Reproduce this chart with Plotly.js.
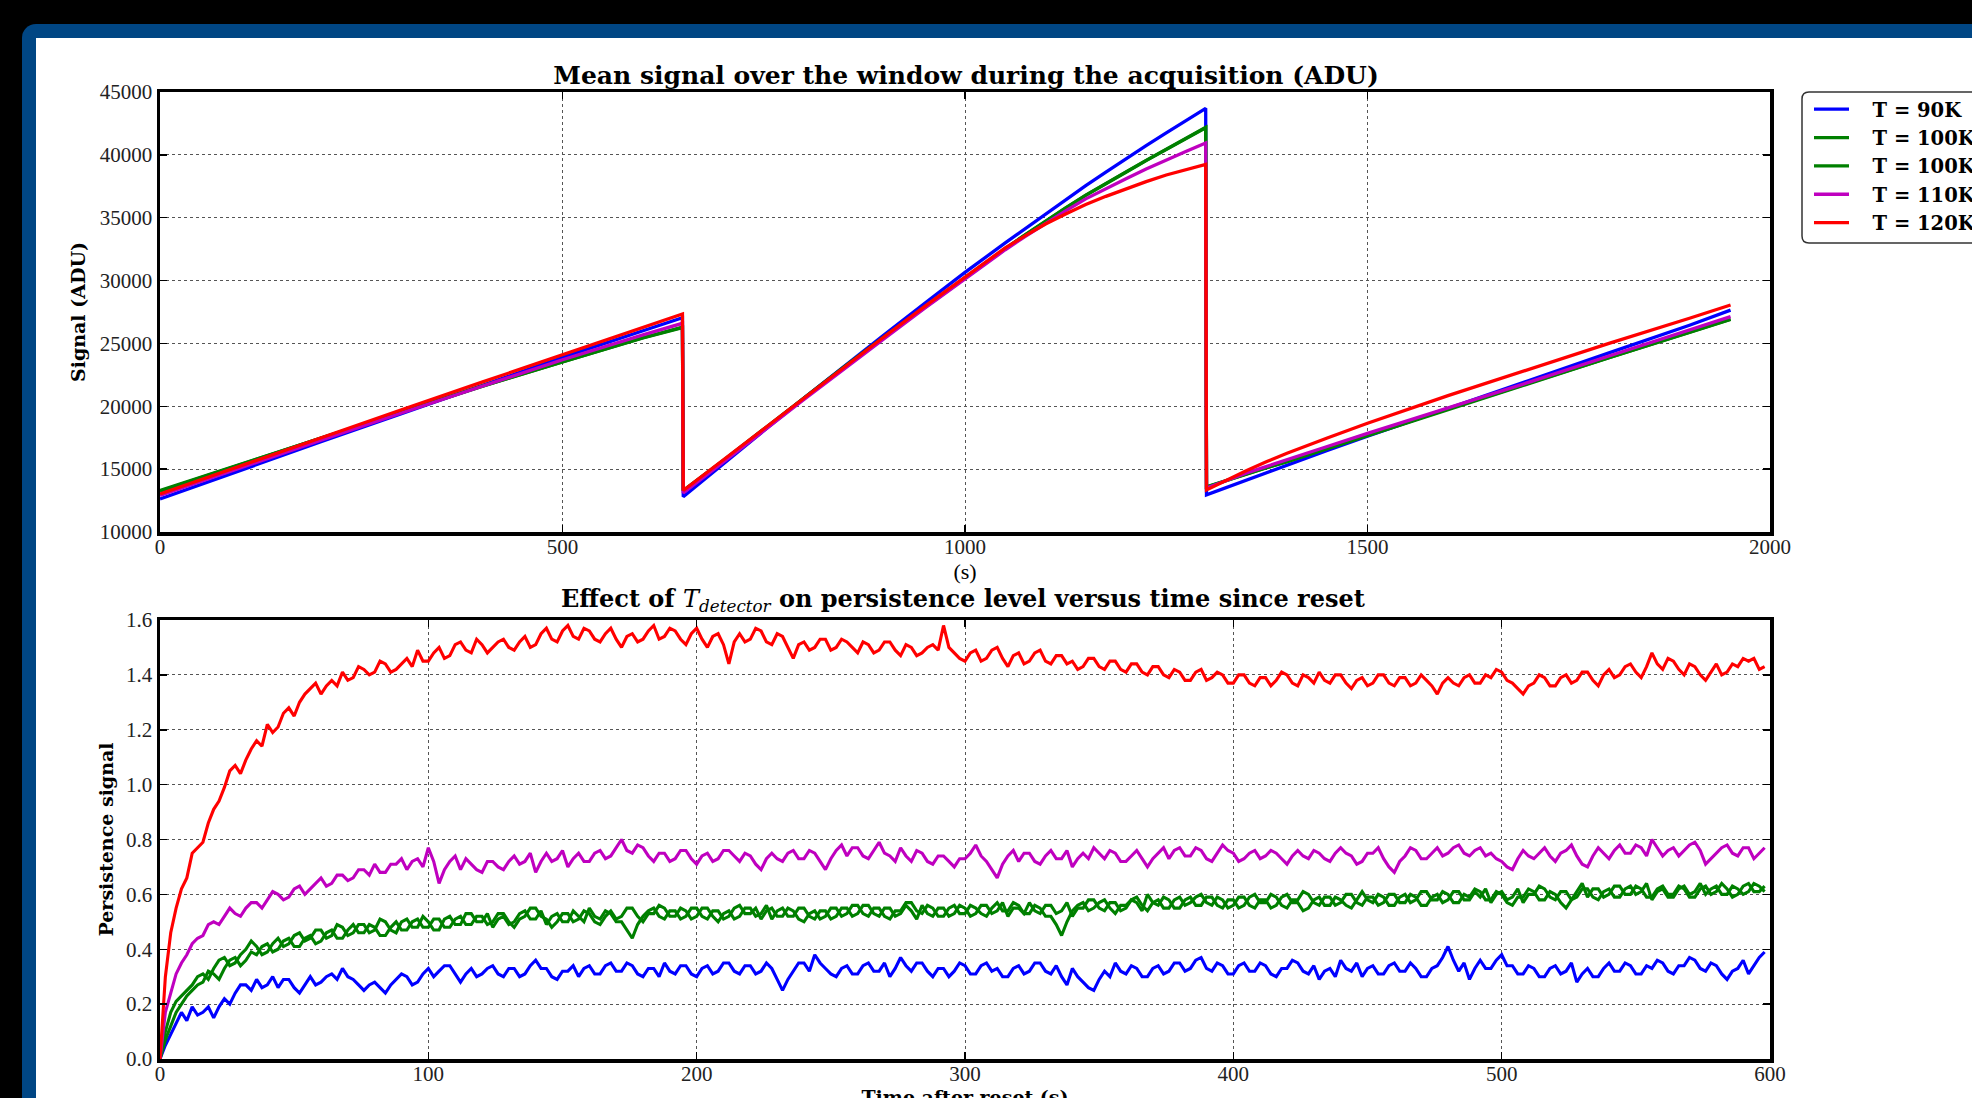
<!DOCTYPE html>
<html><head><meta charset="utf-8">
<script src="https://cdn.plot.ly/plotly-3.0.1.min.js"></script>
<style>
html,body{margin:0;padding:0;background:#000;width:1972px;height:1098px;overflow:hidden;}
#frame{position:absolute;left:22px;top:24px;width:2100px;height:1200px;background:#004684;border-radius:14px;}
#inner{position:absolute;left:36px;top:38px;width:2100px;height:1200px;background:#fff;}
#chart{position:absolute;left:0;top:0;width:1972px;height:1130px;}
</style></head><body>
<div id="frame"></div><div id="inner"></div><div id="chart"></div>
<script>
// ---------- Top panel: mean signal (ADU) ----------
const topTime = [0,100,200,300,400,500,600,649, 650,700,750,800,850,900,950,1000,1050,1075,1100,1125,1150,1175,1200,1225,1250,1275,1299, 1300,1325,1350,1375,1400,1450,1500,1600,1700,1800,1900,1951];
const topBlue = [12620,14910,17180,19420,21660,23890,26010,27050, 12800,15450,18050,20650,23200,25700,28200,30650,33000,34150,35300,36430,37550,38630,39700,40730,41750,42740,43700, 12950,13550,14150,14740,15330,16480,17620,19850,22050,24250,26450,27650];
const topGreenA = [13300,15400,17500,19560,21600,23550,25450,26300, 13300,15700,18200,20700,23150,25550,27900,30250,32550,33660,34750,35790,36800,37750,38650,39560,40450,41330,42200, 13600,14120,14650,15130,15600,16650,17700,19780,21830,23880,25900,26920];
const topGreenB = [13250,15380,17480,19540,21580,23530,25430,26260, 13280,15680,18180,20680,23130,25530,27880,30230,32520,33640,34720,35770,36780,37730,38620,39540,40420,41300,42150, 13580,14100,14630,15110,15590,16630,17680,19760,21810,23860,25880,26900];
const topMagenta = [12900,15120,17310,19470,21600,23700,25680,26600, 13100,15550,18050,20550,23000,25400,27800,30150,32450,33520,34550,35550,36500,37330,38100,38870,39600,40290,40950, 13500,14100,14700,15220,15730,16800,17850,19870,21900,24000,26080,27130];
const topRed = [13020,15270,17500,19720,21920,24100,26280,27340, 13300,15750,18250,20700,23150,25550,27950,30300,32600,33580,34500,35300,36050,36700,37300,37870,38400,38850,39250, 13350,14150,14900,15600,16260,17480,18650,20850,22950,25000,27000,28060];

// ---------- Bottom panel: persistence signal (sampled every 2 s) ----------
const botTime = [0,2,4,6,8,10,12,14,16,18,20,22,24,26,28,30,32,34,36,38,40,42,44,46,48,50,52,54,56,58,60,62,64,66,68,70,72,74,76,78,80,82,84,86,88,90,92,94,96,98,100,102,104,106,108,110,112,114,116,118,120,122,124,126,128,130,132,134,136,138,140,142,144,146,148,150,152,154,156,158,160,162,164,166,168,170,172,174,176,178,180,182,184,186,188,190,192,194,196,198,200,202,204,206,208,210,212,214,216,218,220,222,224,226,228,230,232,234,236,238,240,242,244,246,248,250,252,254,256,258,260,262,264,266,268,270,272,274,276,278,280,282,284,286,288,290,292,294,296,298,300,302,304,306,308,310,312,314,316,318,320,322,324,326,328,330,332,334,336,338,340,342,344,346,348,350,352,354,356,358,360,362,364,366,368,370,372,374,376,378,380,382,384,386,388,390,392,394,396,398,400,402,404,406,408,410,412,414,416,418,420,422,424,426,428,430,432,434,436,438,440,442,444,446,448,450,452,454,456,458,460,462,464,466,468,470,472,474,476,478,480,482,484,486,488,490,492,494,496,498,500,502,504,506,508,510,512,514,516,518,520,522,524,526,528,530,532,534,536,538,540,542,544,546,548,550,552,554,556,558,560,562,564,566,568,570,572,574,576,578,580,582,584,586,588,590,592,594,596,598];
const botRed = [0.00,0.30,0.46,0.55,0.62,0.66,0.75,0.77,0.79,0.86,0.91,0.94,0.99,1.05,1.07,1.04,1.09,1.13,1.16,1.14,1.22,1.19,1.21,1.26,1.28,1.25,1.30,1.33,1.35,1.37,1.33,1.36,1.38,1.36,1.41,1.38,1.39,1.43,1.42,1.40,1.41,1.45,1.44,1.41,1.42,1.44,1.46,1.43,1.49,1.45,1.45,1.48,1.50,1.46,1.47,1.51,1.52,1.49,1.48,1.53,1.51,1.48,1.50,1.52,1.53,1.50,1.49,1.52,1.54,1.50,1.51,1.55,1.57,1.53,1.52,1.56,1.58,1.54,1.53,1.57,1.56,1.53,1.52,1.55,1.57,1.53,1.50,1.54,1.55,1.52,1.53,1.56,1.58,1.53,1.54,1.57,1.56,1.53,1.51,1.55,1.57,1.53,1.50,1.54,1.55,1.51,1.44,1.52,1.55,1.52,1.53,1.57,1.56,1.52,1.51,1.55,1.54,1.50,1.46,1.51,1.52,1.49,1.50,1.53,1.53,1.49,1.50,1.53,1.52,1.50,1.48,1.52,1.51,1.48,1.49,1.52,1.52,1.49,1.47,1.51,1.50,1.47,1.48,1.50,1.51,1.49,1.58,1.50,1.48,1.46,1.45,1.48,1.49,1.45,1.46,1.49,1.50,1.46,1.43,1.47,1.48,1.44,1.45,1.48,1.49,1.45,1.44,1.47,1.47,1.44,1.45,1.42,1.43,1.46,1.46,1.43,1.42,1.45,1.45,1.42,1.41,1.44,1.44,1.41,1.40,1.43,1.43,1.40,1.39,1.42,1.41,1.38,1.38,1.41,1.42,1.38,1.39,1.41,1.40,1.37,1.37,1.40,1.40,1.37,1.36,1.39,1.39,1.36,1.38,1.41,1.40,1.37,1.36,1.40,1.39,1.37,1.41,1.38,1.37,1.40,1.40,1.37,1.35,1.38,1.39,1.36,1.37,1.40,1.40,1.37,1.36,1.39,1.39,1.36,1.37,1.40,1.38,1.36,1.33,1.37,1.39,1.37,1.36,1.39,1.40,1.37,1.37,1.40,1.39,1.42,1.41,1.38,1.37,1.35,1.33,1.36,1.37,1.40,1.39,1.36,1.36,1.39,1.40,1.37,1.38,1.41,1.41,1.38,1.36,1.40,1.42,1.39,1.40,1.43,1.44,1.41,1.39,1.43,1.48,1.44,1.42,1.46,1.45,1.42,1.40,1.44,1.43,1.40,1.38,1.41,1.44,1.40,1.41,1.44,1.43,1.46,1.45,1.46,1.42,1.43];
const botMagenta = [0.00,0.17,0.24,0.31,0.35,0.38,0.42,0.44,0.45,0.49,0.50,0.49,0.52,0.55,0.53,0.52,0.55,0.57,0.57,0.55,0.58,0.61,0.60,0.58,0.59,0.62,0.63,0.60,0.62,0.64,0.66,0.63,0.64,0.67,0.67,0.65,0.66,0.69,0.69,0.67,0.71,0.68,0.68,0.71,0.71,0.73,0.69,0.72,0.73,0.70,0.77,0.72,0.64,0.69,0.72,0.74,0.69,0.73,0.71,0.69,0.68,0.72,0.72,0.70,0.69,0.72,0.74,0.71,0.72,0.75,0.68,0.72,0.75,0.72,0.73,0.76,0.70,0.73,0.75,0.72,0.72,0.75,0.76,0.73,0.74,0.77,0.80,0.76,0.75,0.78,0.77,0.74,0.72,0.75,0.75,0.72,0.73,0.76,0.76,0.73,0.71,0.74,0.75,0.72,0.73,0.76,0.76,0.74,0.72,0.75,0.74,0.71,0.69,0.73,0.75,0.73,0.72,0.75,0.76,0.73,0.73,0.76,0.75,0.72,0.69,0.73,0.76,0.78,0.74,0.77,0.77,0.74,0.73,0.76,0.79,0.75,0.74,0.72,0.77,0.74,0.72,0.76,0.75,0.72,0.71,0.74,0.74,0.72,0.70,0.73,0.73,0.75,0.78,0.74,0.72,0.69,0.66,0.71,0.74,0.76,0.72,0.75,0.75,0.72,0.71,0.74,0.76,0.73,0.73,0.76,0.70,0.73,0.75,0.73,0.77,0.75,0.73,0.76,0.75,0.72,0.72,0.74,0.76,0.73,0.70,0.73,0.75,0.77,0.73,0.76,0.77,0.74,0.74,0.77,0.76,0.73,0.72,0.75,0.78,0.76,0.75,0.72,0.73,0.75,0.76,0.73,0.74,0.76,0.75,0.73,0.71,0.74,0.76,0.74,0.73,0.76,0.75,0.73,0.72,0.75,0.77,0.75,0.74,0.71,0.72,0.75,0.75,0.77,0.73,0.70,0.68,0.72,0.74,0.77,0.76,0.73,0.73,0.75,0.77,0.74,0.75,0.77,0.78,0.75,0.74,0.76,0.77,0.74,0.75,0.73,0.72,0.70,0.69,0.73,0.76,0.74,0.73,0.75,0.77,0.74,0.72,0.75,0.76,0.78,0.74,0.71,0.70,0.74,0.77,0.75,0.73,0.76,0.78,0.75,0.75,0.78,0.77,0.74,0.80,0.77,0.74,0.76,0.77,0.74,0.76,0.78,0.79,0.76,0.71,0.73,0.75,0.77,0.78,0.75,0.74,0.77,0.77,0.73,0.75,0.77];
const botGreenA = [0.00,0.10,0.17,0.21,0.23,0.25,0.27,0.30,0.31,0.29,0.33,0.36,0.37,0.34,0.35,0.38,0.40,0.43,0.41,0.38,0.39,0.42,0.44,0.41,0.42,0.45,0.46,0.43,0.44,0.47,0.47,0.44,0.45,0.49,0.48,0.45,0.46,0.49,0.49,0.46,0.47,0.51,0.50,0.47,0.46,0.50,0.51,0.48,0.48,0.52,0.50,0.47,0.47,0.51,0.52,0.49,0.49,0.53,0.53,0.50,0.50,0.53,0.48,0.51,0.52,0.49,0.50,0.53,0.54,0.51,0.51,0.54,0.49,0.52,0.53,0.50,0.50,0.54,0.52,0.50,0.55,0.52,0.51,0.54,0.53,0.50,0.50,0.47,0.44,0.49,0.52,0.54,0.55,0.52,0.51,0.54,0.54,0.51,0.52,0.55,0.55,0.52,0.51,0.54,0.54,0.51,0.52,0.55,0.56,0.53,0.53,0.55,0.51,0.54,0.55,0.52,0.52,0.55,0.54,0.51,0.50,0.53,0.54,0.51,0.52,0.55,0.55,0.52,0.53,0.56,0.56,0.53,0.52,0.55,0.55,0.52,0.51,0.54,0.54,0.57,0.57,0.54,0.53,0.56,0.55,0.52,0.52,0.55,0.56,0.53,0.53,0.56,0.55,0.53,0.52,0.55,0.57,0.54,0.54,0.57,0.56,0.53,0.53,0.56,0.55,0.52,0.52,0.49,0.45,0.50,0.54,0.56,0.57,0.54,0.55,0.57,0.58,0.55,0.53,0.56,0.56,0.58,0.59,0.56,0.54,0.57,0.58,0.55,0.55,0.58,0.59,0.56,0.57,0.59,0.60,0.57,0.56,0.59,0.58,0.55,0.56,0.59,0.59,0.56,0.55,0.58,0.58,0.55,0.56,0.59,0.60,0.57,0.57,0.54,0.55,0.58,0.59,0.56,0.56,0.59,0.58,0.56,0.55,0.58,0.61,0.58,0.57,0.60,0.59,0.56,0.56,0.59,0.60,0.57,0.58,0.61,0.61,0.58,0.58,0.61,0.60,0.57,0.57,0.60,0.59,0.62,0.61,0.58,0.58,0.61,0.60,0.57,0.56,0.59,0.59,0.62,0.61,0.58,0.58,0.61,0.60,0.57,0.55,0.58,0.61,0.64,0.59,0.62,0.62,0.59,0.60,0.63,0.63,0.60,0.60,0.63,0.62,0.59,0.59,0.62,0.63,0.60,0.60,0.63,0.62,0.59,0.59,0.62,0.63,0.60,0.61,0.64,0.62,0.59,0.60,0.63,0.64,0.61,0.61,0.63];
const botGreenB = [0.00,0.07,0.12,0.17,0.20,0.23,0.25,0.27,0.28,0.32,0.31,0.29,0.33,0.36,0.37,0.34,0.36,0.39,0.38,0.41,0.42,0.39,0.40,0.43,0.44,0.41,0.41,0.44,0.45,0.42,0.43,0.46,0.47,0.44,0.44,0.47,0.49,0.46,0.46,0.49,0.48,0.45,0.45,0.48,0.50,0.47,0.47,0.50,0.51,0.48,0.48,0.51,0.51,0.48,0.48,0.51,0.52,0.49,0.49,0.52,0.52,0.49,0.50,0.53,0.53,0.50,0.48,0.51,0.52,0.55,0.55,0.52,0.51,0.48,0.50,0.53,0.53,0.50,0.51,0.54,0.53,0.50,0.49,0.52,0.54,0.51,0.52,0.55,0.55,0.52,0.50,0.53,0.53,0.56,0.55,0.52,0.52,0.55,0.54,0.51,0.52,0.55,0.55,0.52,0.50,0.53,0.54,0.51,0.52,0.55,0.55,0.52,0.53,0.56,0.51,0.54,0.55,0.52,0.52,0.55,0.55,0.52,0.51,0.54,0.54,0.51,0.52,0.55,0.55,0.52,0.53,0.56,0.56,0.53,0.52,0.55,0.55,0.52,0.53,0.56,0.54,0.51,0.56,0.53,0.52,0.55,0.55,0.52,0.53,0.56,0.55,0.52,0.53,0.56,0.56,0.53,0.54,0.57,0.52,0.55,0.55,0.53,0.57,0.54,0.53,0.56,0.56,0.53,0.54,0.57,0.52,0.55,0.55,0.58,0.58,0.55,0.54,0.57,0.57,0.54,0.55,0.58,0.57,0.54,0.60,0.57,0.56,0.59,0.58,0.55,0.55,0.58,0.59,0.56,0.56,0.59,0.59,0.56,0.55,0.58,0.58,0.55,0.56,0.59,0.60,0.57,0.57,0.60,0.59,0.56,0.55,0.58,0.58,0.61,0.60,0.57,0.56,0.59,0.59,0.56,0.57,0.60,0.60,0.57,0.56,0.59,0.59,0.56,0.57,0.60,0.60,0.57,0.57,0.60,0.59,0.56,0.56,0.59,0.60,0.57,0.58,0.61,0.61,0.58,0.58,0.61,0.59,0.62,0.57,0.60,0.61,0.58,0.59,0.62,0.57,0.60,0.60,0.63,0.62,0.59,0.58,0.61,0.61,0.58,0.59,0.62,0.62,0.59,0.58,0.61,0.62,0.59,0.59,0.62,0.63,0.60,0.61,0.64,0.58,0.61,0.62,0.59,0.59,0.62,0.63,0.60,0.61,0.64,0.60,0.62,0.63,0.60,0.60,0.63,0.62,0.60,0.61,0.64,0.63,0.61];
const botBlue = [0.00,0.05,0.09,0.13,0.17,0.14,0.19,0.16,0.17,0.19,0.15,0.19,0.22,0.20,0.24,0.27,0.27,0.25,0.29,0.26,0.27,0.30,0.26,0.29,0.29,0.26,0.24,0.27,0.30,0.27,0.28,0.30,0.31,0.29,0.33,0.30,0.29,0.27,0.25,0.27,0.28,0.26,0.24,0.27,0.29,0.31,0.30,0.27,0.28,0.31,0.33,0.30,0.32,0.34,0.34,0.31,0.28,0.31,0.33,0.30,0.31,0.33,0.34,0.31,0.30,0.33,0.33,0.30,0.31,0.34,0.36,0.33,0.33,0.30,0.29,0.32,0.32,0.34,0.30,0.33,0.34,0.31,0.31,0.34,0.35,0.32,0.32,0.35,0.34,0.31,0.30,0.33,0.33,0.30,0.35,0.32,0.31,0.34,0.34,0.31,0.30,0.33,0.34,0.31,0.32,0.35,0.35,0.32,0.31,0.34,0.34,0.31,0.32,0.35,0.33,0.29,0.25,0.29,0.32,0.35,0.35,0.32,0.38,0.35,0.33,0.31,0.30,0.33,0.34,0.31,0.31,0.34,0.35,0.32,0.32,0.35,0.30,0.33,0.37,0.34,0.32,0.35,0.35,0.32,0.30,0.33,0.33,0.30,0.32,0.35,0.34,0.31,0.31,0.34,0.35,0.32,0.33,0.30,0.30,0.33,0.34,0.31,0.32,0.35,0.35,0.32,0.31,0.34,0.30,0.27,0.33,0.30,0.28,0.26,0.25,0.29,0.32,0.30,0.35,0.32,0.31,0.34,0.33,0.30,0.30,0.33,0.34,0.31,0.32,0.35,0.35,0.32,0.33,0.36,0.37,0.33,0.32,0.35,0.34,0.31,0.31,0.34,0.35,0.32,0.32,0.35,0.34,0.31,0.30,0.33,0.33,0.36,0.35,0.32,0.31,0.34,0.29,0.32,0.33,0.30,0.36,0.33,0.32,0.35,0.30,0.33,0.34,0.31,0.31,0.34,0.35,0.32,0.32,0.35,0.33,0.30,0.30,0.33,0.34,0.37,0.41,0.36,0.32,0.35,0.29,0.33,0.36,0.33,0.33,0.36,0.38,0.34,0.34,0.31,0.31,0.34,0.33,0.30,0.30,0.33,0.34,0.31,0.32,0.35,0.28,0.31,0.33,0.30,0.30,0.33,0.35,0.32,0.32,0.35,0.34,0.31,0.31,0.34,0.33,0.36,0.35,0.32,0.31,0.34,0.34,0.37,0.36,0.33,0.32,0.35,0.34,0.31,0.29,0.32,0.33,0.36,0.31,0.34,0.37,0.39];

const seriesNames = ['T = 90K','T = 100K','T = 100K','T = 110K','T = 120K'];
const seriesColors = ['#0000ff','#008000','#008000','#bf00bf','#ff0000'];

const topSeries = [topBlue, topGreenA, topGreenB, topMagenta, topRed];
const botSeries = [botBlue, botGreenA, botGreenB, botMagenta, botRed];

const traces = [];
topSeries.forEach((ys, i) => {
  traces.push({type:'scatter', mode:'lines', x: topTime, y: ys, xaxis:'x', yaxis:'y',
    name: '\u00a0\u00a0\u00a0<b>' + seriesNames[i] + '</b>', legendgroup: 'g' + i, showlegend: true,
    line:{color: seriesColors[i], width:3.3}, hoverinfo:'skip'});
});
botSeries.forEach((ys, i) => {
  traces.push({type:'scatter', mode:'lines', x: botTime, y: ys, xaxis:'x2', yaxis:'y2',
    name: seriesNames[i], legendgroup: 'g' + i, showlegend: false,
    line:{color: seriesColors[i], width:3.1}, hoverinfo:'skip'});
});

// figure is a bit taller than the window so that the lower x title is cut like in the reference
const W = 1972, HT = 1130, PB = 71, PH = HT - PB;   // PH: plot-area (paper) height in px
const py = v => 1 - v / PH;                          // pixel row -> paper fraction
const tickFont = {family:'Liberation Serif', size:21, color:'#222'};
const titleFont = {family:'DejaVu Serif', size:19, color:'#000'};
function ax(extra){
  return Object.assign({showline:true, linecolor:'#000', linewidth:3.5, mirror:'ticks',
    ticks:'inside', ticklen:7, tickwidth:1.5, tickcolor:'#000',
    showgrid:true, gridcolor:'#555', griddash:'dot', gridwidth:1, zeroline:false,
    tickfont:tickFont, automargin:false, fixedrange:true}, extra);
}
const xDom = [160/W, 1770/W];
const lx0 = 1802/W, lx1 = 2010/W, ly0 = py(92), ly1 = py(243), rx = 7/W, ry = 7/PH;
const legendBox = `M${lx0+rx},${ly0} L${lx1},${ly0} L${lx1},${ly1} L${lx0+rx},${ly1} Q${lx0},${ly1} ${lx0},${ly1+ry} L${lx0},${ly0-ry} Q${lx0},${ly0} ${lx0+rx},${ly0} Z`;
const layout = {
  width:W, height:HT,
  margin:{l:0,r:0,t:0,b:PB, autoexpand:false},
  paper_bgcolor:'rgba(0,0,0,0)', plot_bgcolor:'#fff',
  title:{text:'<b>Mean signal over the window during the acquisition (ADU)</b>',
    font:{family:'DejaVu Serif', size:25, color:'#000'},
    x:966/W, xref:'container', xanchor:'center', y:1-75/HT, yref:'container', yanchor:'middle'},
  xaxis: ax({domain:xDom, anchor:'y', range:[0,2000], tick0:0, dtick:500, tickformat:'d', ticklabelstandoff:-7,
    title:{text:'(s)', font:{family:'Liberation Serif', size:22, color:'#000'}, standoff:0}}),
  yaxis: ax({domain:[py(532), py(92)], anchor:'x', range:[10000,45000], tick0:10000, dtick:5000, tickformat:'d',
    title:{text:'<b>Signal (ADU)</b>', font:titleFont, standoff:10}}),
  xaxis2: ax({domain:xDom, anchor:'y2', range:[0,600], tick0:0, dtick:100, tickformat:'d', ticklabelstandoff:-7,
    title:{text:'<b>Time after reset (s)</b>', font:titleFont, standoff:4}}),
  yaxis2: ax({domain:[0, py(620)], anchor:'x2', range:[0,1.6], tick0:0, dtick:0.2, tickformat:'.1f',
    title:{text:'<b>Persistence signal</b>', font:titleFont, standoff:8}}),
  annotations:[{text:'<b>Effect of </b><i>T</i><sub><i>detector</i></sub><b> on persistence level versus time since reset</b>',
    xref:'paper', yref:'paper', x:963/W, y:py(600), xanchor:'center', yanchor:'middle', showarrow:false,
    font:{family:'DejaVu Serif', size:24, color:'#000'}}],
  shapes:[{type:'path', path:legendBox, xref:'paper', yref:'paper', fillcolor:'#fff',
    line:{color:'#333', width:1.5}, layer:'above'}],
  legend:{x:1809/W, y:py(90), xanchor:'left', yanchor:'top', bgcolor:'rgba(0,0,0,0)', borderwidth:0,
    font:{family:'DejaVu Serif', size:19.5, color:'#000'}, tracegroupgap:0, itemwidth:35},
  showlegend:true
};
Plotly.newPlot('chart', traces, layout, {displayModeBar:false, staticPlot:true});
</script></body></html>
